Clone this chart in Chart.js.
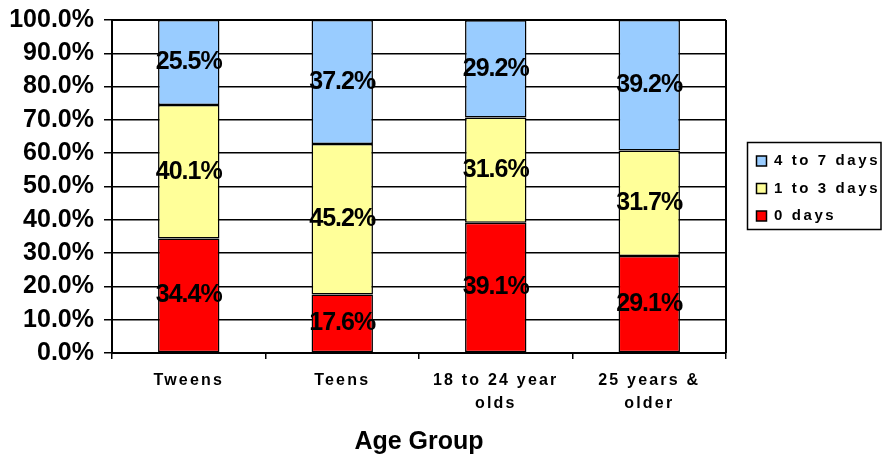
<!DOCTYPE html>
<html>
<head>
<meta charset="utf-8">
<script src="https://cdn.jsdelivr.net/npm/chart.js@4.4.1/dist/chart.umd.min.js"></script>
<style>
    html, body { margin: 0; padding: 0; background: #fff; }
</style>
</head>
<body>
<canvas id="chart" width="882" height="457"></canvas>
<script>
        // data
        const categories = ['Tweens', 'Teens', ['18 to 24 year', 'olds'], ['25 years &', 'older']];
        const zeroDays = [34.4, 17.6, 39.1, 29.1];
        const oneToThreeDays = [40.1, 45.2, 31.6, 31.7];
        const fourToSevenDays = [25.5, 37.2, 29.2, 39.2];
        const seriesNames = ['0 days', '1 to 3 days', '4 to 7 days'];
        const yTickValues = [0, 10, 20, 30, 40, 50, 60, 70, 80, 90, 100];
        const axisTitle = 'Age Group';

        const FONT = 'Arial, "Liberation Sans", sans-serif';
        const LEGEND_SHIFT = 18;
        const LEGEND_DY = 2;

        function withSpacing(obj, method, spacing, before, after) {
            const orig = obj[method];
            obj[method] = function () {
                const ctx = this.ctx;
                ctx.save();
                ctx.letterSpacing = spacing;
                if (before) before.call(this);
                try { return orig.apply(this, arguments); }
                finally { if (after) after.call(this); ctx.restore(); }
            };
        }

        const spacedText = {
            id: 'spacedText',
            afterInit(chart) {
                const legend = chart.legend;
                if (legend && !legend.__patched) {
                    legend.__patched = true;
                    withSpacing(legend, 'fit', '2.6px', null, function () { this.width = 156; });
                    withSpacing(legend, 'draw', '2.6px',
                        function () { this.ctx.translate(LEGEND_SHIFT, LEGEND_DY); },
                        null);
                }
            },
            afterLayout(chart) {
                const sx = chart.scales.x;
                if (sx && !sx.__patched) {
                    sx.__patched = true;
                    withSpacing(sx, 'drawLabels', '2.2px');
                }
            }
        };

        const frameAndLabels = {
            id: 'frameAndLabels',
            afterDatasetsDraw(chart) {
                const ctx = chart.ctx;
                const a = chart.chartArea;
                ctx.save();
                ctx.strokeStyle = '#000';
                ctx.lineWidth = 2;
                ctx.beginPath();
                ctx.moveTo(a.right, a.top);
                ctx.lineTo(a.right, a.bottom);
                ctx.moveTo(a.left, a.top);
                ctx.lineTo(a.right, a.top);
                ctx.stroke();

                ctx.font = 'bold 25px ' + FONT;
                ctx.fillStyle = '#000';
                ctx.textAlign = 'center';
                ctx.textBaseline = 'middle';
                ctx.letterSpacing = '-1px';
                chart.data.datasets.forEach((ds, i) => {
                    chart.getDatasetMeta(i).data.forEach((bar, j) => {
                        ctx.fillText(ds.data[j].toFixed(1) + '%', bar.x, (bar.y + bar.base) / 2);
                    });
                });
                ctx.restore();
            },
            afterDraw(chart) {
                const hits = chart.legend && chart.legend.legendHitBoxes;
                if (!hits || !hits.length) return;
                const ctx = chart.ctx;
                const left = hits[0].left + LEGEND_SHIFT - 9;
                const top = Math.min(...hits.map(h => h.top)) + LEGEND_DY - 11;
                const bottom = Math.max(...hits.map(h => h.top)) + LEGEND_DY + 21;
                ctx.save();
                ctx.strokeStyle = '#000';
                ctx.lineWidth = 1.5;
                ctx.strokeRect(left, top, chart.width - 1 - left, bottom - top);
                ctx.restore();
            }
        };

        new Chart(document.getElementById('chart'), {
            type: 'bar',
            data: {
                labels: categories,
                datasets: [
                    { label: seriesNames[0], data: zeroDays, backgroundColor: '#FF0000' },
                    { label: seriesNames[1], data: oneToThreeDays, backgroundColor: '#FFFF99' },
                    { label: seriesNames[2], data: fourToSevenDays, backgroundColor: '#99CCFF' }
                ].map(d => Object.assign(d, {
                    borderColor: '#000', borderWidth: 1.5, borderSkipped: false,
                    barPercentage: 0.4, categoryPercentage: 1.0
                }))
            },
            options: {
                responsive: false,
                animation: false,
                devicePixelRatio: 1,
                layout: { padding: { top: 20, left: 0, right: 0, bottom: 0 } },
                plugins: {
                    tooltip: { enabled: false },
                    legend: {
                        position: 'right',
                        fullSize: false,
                        reverse: true,
                        labels: {
                            boxWidth: 10, boxHeight: 10, padding: 12.5, color: '#000',
                            font: { family: FONT, size: 15, weight: 'bold' }
                        }
                    }
                },
                scales: {
                    x: {
                        stacked: true,
                        grid: { drawOnChartArea: false, offset: true, color: '#000', lineWidth: 1.5, tickLength: 6 },
                        border: { color: '#000', width: 2 },
                        ticks: {
                            color: '#000', padding: 10, maxRotation: 0, autoSkip: false,
                            font: { family: FONT, size: 16, weight: 'bold', lineHeight: 1.45 }
                        },
                        title: {
                            display: true, text: axisTitle, color: '#000',
                            font: { family: FONT, size: 25, weight: 'bold' },
                            padding: { top: 0, bottom: 0 }
                        },
                        afterFit: s => { s.height = 104; s.paddingLeft = 0; s.paddingRight = 0; }
                    },
                    y: {
                        stacked: true,
                        min: 0,
                        max: 100,
                        afterBuildTicks: s => { s.ticks = yTickValues.map(v => ({ value: v })); },
                        grid: { color: '#000', lineWidth: 1.5, tickLength: 8 },
                        border: { color: '#000', width: 2 },
                        ticks: {
                            color: '#000', padding: 10, autoSkip: false,
                            font: { family: FONT, size: 25, weight: 'bold' },
                            callback: v => v.toFixed(1) + '%'
                        },
                        afterFit: s => { s.width = 112; s.paddingTop = 0; s.paddingBottom = 0; }
                    }
                }
            },
            plugins: [spacedText, frameAndLabels]
        });
</script>
</body>
</html>
